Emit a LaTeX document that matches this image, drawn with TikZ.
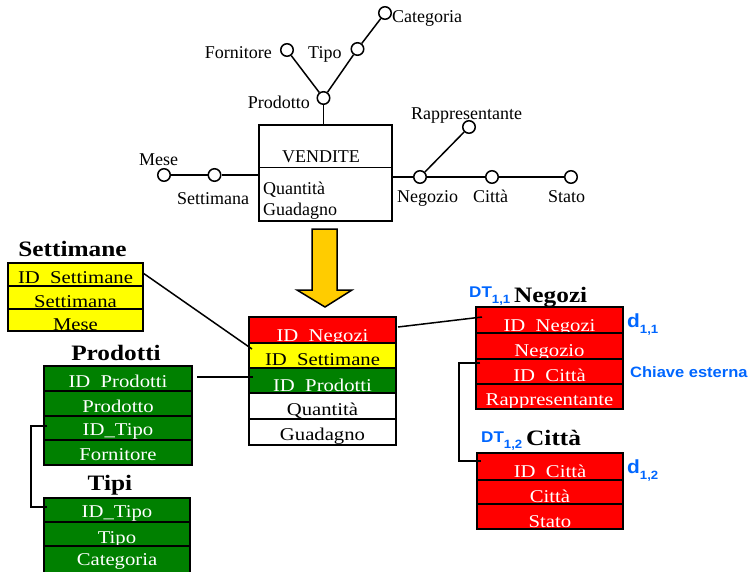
\documentclass[tikz,border=0pt]{standalone}
\usepackage{fontspec}
\setmainfont{Liberation Serif}
\newfontfamily\tblfont[FakeStretch=1.15]{Liberation Serif}
\newfontfamily\keyfont[FakeStretch=1.1]{Liberation Sans}
\definecolor{tred}{RGB}{255,0,0}
\definecolor{tyellow}{RGB}{255,255,0}
\definecolor{tgreen}{RGB}{0,128,0}
\definecolor{arrowgold}{RGB}{255,204,0}
\definecolor{keyblue}{RGB}{0,102,255}

\tikzset{
  schema/.style={font=\fontsize{18}{18}\selectfont, inner sep=0pt},
  attr/.style={circle, draw, line width=1.5pt, fill=white, minimum size=12.5pt, inner sep=0pt},
  link/.style={line width=1.5pt},
  tblrow/.style={draw, line width=2pt, inner sep=0pt, outer sep=0pt},
  rowtext/.style={anchor=base, inner sep=0pt, text=\rowtc,
                  font=\tblfont\fontsize{18}{18}\selectfont},
  redrow/.style={fill=tred, /utils/exec=\def\rowtc{white}},
  yellowrow/.style={fill=tyellow, /utils/exec=\def\rowtc{black}},
  greenrow/.style={fill=tgreen, /utils/exec=\def\rowtc{white}},
  whiterow/.style={fill=white, /utils/exec=\def\rowtc{black}},
  tbltitle/.style={anchor=base, inner sep=0pt, font=\tblfont\bfseries\fontsize{22}{22}\selectfont},
  keytext/.style={anchor=base west, inner sep=0pt, text=keyblue, font=\keyfont\bfseries},
  fklink/.style={line width=1.5pt},
}

% one table row: style, name, centre, height, baseline lift, text
\newcommand\tabrow[6]{%
  \node[tblrow,#1,minimum height=#4,
        path picture={\node[rowtext] at ([yshift=#5]path picture bounding box.south) {#6};}]
        (#2) at (#3) {};}

\newcommand\lowsub[1]{\raisebox{-6.5pt}{\fontsize{12}{12}\selectfont #1}}

\begin{document}
\begin{tikzpicture}[x=1pt,y=-1pt]
\useasboundingbox (0,0) rectangle (749,571);

% ---------------- dimensional fact schema ----------------
\node[draw, line width=1.5pt, minimum width=133pt, minimum height=96pt, inner sep=0pt] (box) at (325.5,173) {};
\draw[line width=1.5pt] ([yshift=-43pt]box.north west) -- ([yshift=-43pt]box.north east);
\node[schema, anchor=base] (vendite) at (321,162) {VENDITE};
\node[schema, anchor=base west] (qta) at (263,194) {Quantità};
\node[schema, anchor=base west] (gua) at (263,215) {Guadagno};

\node[attr] (prod) at (323.5,98) {};
\node[attr] (forn) at (287,50) {};
\node[attr] (tipo) at (357.5,49) {};
\node[attr] (cat) at (385,13) {};
\node[attr] (mese) at (164,175) {};
\node[attr] (sett) at (214.5,175) {};
\node[attr] (neg) at (420,177) {};
\node[attr] (cit) at (492,177) {};
\node[attr] (sta) at (571,177) {};
\node[attr] (rap) at (469,127) {};

\draw[link] (prod) -- (prod |- box.north);
\draw[link] (prod) -- (forn);
\draw[link] (prod) -- (tipo);
\draw[link] (tipo) -- (cat);
\draw[link] (mese) -- (sett);
\draw[link] (sett) -- (sett -| box.west);
\draw[link] (box.east |- neg) -- (neg);
\draw[link] (neg) -- (cit);
\draw[link] (cit) -- (sta);
\draw[link] (neg) -- (rap);

\node[schema, anchor=base west] (lcat) at (392,22) {Categoria};
\node[schema, anchor=base west] (ltipo) at (308,58) {Tipo};
\node[schema, anchor=base east] (lforn) at (272,58) {Fornitore};
\node[schema, anchor=base east] (lprod) at (310,108) {Prodotto};
\node[schema, anchor=base west] (lmese) at (139,165) {Mese};
\node[schema, anchor=base west] (lsett) at (177,204) {Settimana};
\node[schema, anchor=base west] (lrap) at (411,119) {Rappresentante};
\node[schema, anchor=base west] (lneg) at (397,202) {Negozio};
\node[schema, anchor=base west] (lcit) at (473,202) {Città};
\node[schema, anchor=base west] (lsta) at (548,202) {Stato};

% ---------------- transformation arrow ----------------
\draw[line width=1.5pt, fill=arrowgold, line join=miter]
  (312,229) -- (337,229) -- (337,290) -- (352,290) -- (325,307) -- (297,290) -- (312,290) -- cycle;

% ---------------- fact table ----------------
\tikzset{facttbl/.style={minimum width=147pt}}
\tabrow{facttbl,redrow}{cn}{322.5,330}{26pt}{1.5pt}{ID\ \ Negozi}
\tabrow{facttbl,yellowrow}{cs}{322.5,355.5}{25pt}{3pt}{ID\ \ Settimane}
\tabrow{facttbl,greenrow}{cp}{322.5,380.5}{25pt}{2pt}{ID\ \ Prodotti}
\tabrow{facttbl,whiterow}{cq}{322.5,406}{26pt}{4pt}{Quantità}
\tabrow{facttbl,whiterow}{cg}{322.5,432}{26pt}{5pt}{Guadagno}

% ---------------- Settimane ----------------
\node[tbltitle] (tsett) at (72.5,256) {Settimane};
\tikzset{setttbl/.style={minimum width=135pt}}
\tabrow{setttbl,yellowrow}{s1}{75.5,274.5}{23pt}{3pt}{ID\ \ Settimane}
\tabrow{setttbl,yellowrow}{s2}{75.5,297.5}{23pt}{2pt}{Settimana}
\tabrow{setttbl,yellowrow}{s3}{75.5,320}{22pt}{1pt}{Mese}

% ---------------- Prodotti ----------------
\node[tbltitle] (tprod) at (116,360) {Prodotti};
\tikzset{prodtbl/.style={minimum width=148pt}}
\tabrow{prodtbl,greenrow}{p1}{118,378.5}{25pt}{4pt}{ID\ \ Prodotti}
\tabrow{prodtbl,greenrow}{p2}{118,403.5}{25pt}{4pt}{Prodotto}
\tabrow{prodtbl,greenrow}{p3}{118,428}{24pt}{5pt}{ID\_Tipo}
\tabrow{prodtbl,greenrow}{p4}{118,452.5}{25pt}{5pt}{Fornitore}

% ---------------- Tipi ----------------
\node[tbltitle] (ttipi) at (110,490) {Tipi};
\tikzset{tipitbl/.style={minimum width=146pt}}
\tabrow{tipitbl,greenrow}{t1}{117,510}{24pt}{5pt}{ID\_Tipo}
\tabrow{tipitbl,greenrow}{t2}{117,534}{24pt}{3pt}{Tipo}
\tabrow{tipitbl,greenrow}{t3}{117,561}{30pt}{11pt}{Categoria}

% ---------------- Negozi ----------------
\node[tbltitle, anchor=base west] (tneg) at (514,302) {Negozi};
\node[keytext, font=\keyfont\bfseries\fontsize{15.5}{15.5}\selectfont] (dtneg) at (469,297) {DT\lowsub{1,1}};
\tikzset{negtbl/.style={minimum width=147pt}}
\tabrow{negtbl,redrow}{n1}{549.5,320}{26pt}{1.5pt}{ID\ \ Negozi}
\tabrow{negtbl,redrow}{n2}{549.5,346}{26pt}{3pt}{Negozio}
\tabrow{negtbl,redrow}{n3}{549.5,371.5}{25pt}{3pt}{ID\ \ Città}
\tabrow{negtbl,redrow}{n4}{549.5,396.5}{25pt}{4pt}{Rappresentante}
\node[keytext, font=\keyfont\bfseries\fontsize{19}{19}\selectfont] (dneg) at (627,327) {d\lowsub{1,1}};
\node[keytext, font=\keyfont\bfseries\fontsize{15}{15}\selectfont] (fk) at (630,377) {Chiave esterna};

% ---------------- Città ----------------
\node[tbltitle, anchor=base west] (tcit) at (526,445) {Città};
\node[keytext, font=\keyfont\bfseries\fontsize{15.5}{15.5}\selectfont] (dtcit) at (481,442) {DT\lowsub{1,2}};
\tikzset{cittbl/.style={minimum width=146pt}}
\tabrow{cittbl,redrow}{c1}{550,466.5}{27pt}{3pt}{ID\ \ Città}
\tabrow{cittbl,redrow}{c2}{550,492}{24pt}{2pt}{Città}
\tabrow{cittbl,redrow}{c3}{550,516.5}{25pt}{2pt}{Stato}
\node[keytext, font=\keyfont\bfseries\fontsize{19}{19}\selectfont] (dcit) at (627,473) {d\lowsub{1,2}};

% ---------------- key references ----------------
\draw[fklink] ([yshift=1.5pt]s1.east) -- ([shift={(3pt,-6pt)}]cs.north west);
\draw[fklink] ([shift={(5pt,1.5pt)}]p1.east) -- ([shift={(4pt,3.5pt)}]cp.west);
\draw[fklink] ([shift={(2pt,3pt)}]cn.east) -- ([shift={(6pt,3pt)}]n1.west);
\draw[fklink] ([shift={(4pt,-4pt)}]n3.north west) -- ++(-21pt,0pt) |- ([shift={(4pt,-8pt)}]c1.north west);
\draw[fklink] ([shift={(3pt,-10pt)}]p3.north west) -- ++(-16pt,0pt) |- ([shift={(3pt,-9pt)}]t1.north west);
\end{tikzpicture}
\end{document}
